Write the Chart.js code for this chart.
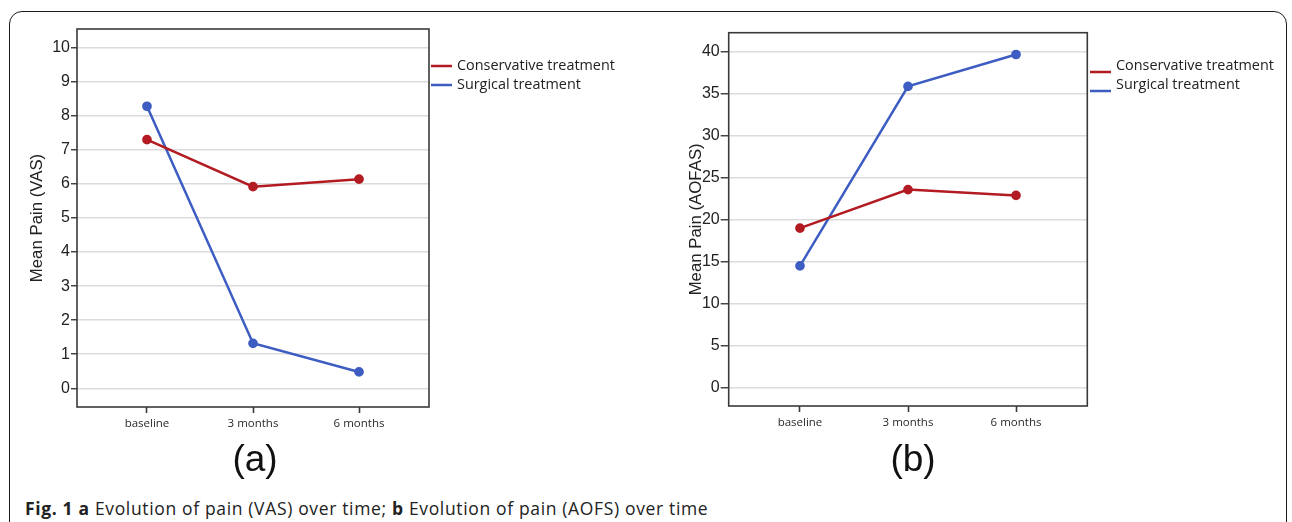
<!DOCTYPE html>
<html>
<head>
<meta charset="utf-8">
<script src="https://cdn.jsdelivr.net/npm/chart.js@4"></script>
<style>
  html, body { margin: 0; padding: 0; background: #fff; }
  body { width: 1292px; height: 522px; position: relative; overflow: hidden; }
  #frame { position: absolute; left: 9px; top: 11px; width: 1276px; height: 560px;
           border: 1.5px solid #1a1a1a; border-radius: 13px; }
  .cv { position: absolute; top: 0; }
  .panel { position: absolute; font-family: "Liberation Sans", Arial, sans-serif; font-size: 37px;
           color: #111; transform: translateX(-50%); top: 440px; line-height: 1; }
  #caption { position: absolute; left: 25px; top: 496px; font-family: "Open Sans", sans-serif;
             font-size: 17.5px; letter-spacing: 0.65px; color: #222; white-space: nowrap; }
  #caption b { font-weight: 700; }
</style>
</head>
<body>
<div id="frame"></div>
<canvas id="c1" class="cv" style="left:0px" width="660" height="440"></canvas>
<canvas id="c2" class="cv" style="left:640px" width="652" height="440"></canvas>
<div class="panel" style="left:255px">(a)</div>
<div class="panel" style="left:913px">(b)</div>
<div id="caption"><b>Fig. 1</b> <b>a</b> Evolution of pain (VAS) over time; <b>b</b> Evolution of pain (AOFS) over time</div>
<script>
const categories = ['baseline', '3 months', '6 months'];
const seriesNames = ['Conservative treatment', 'Surgical treatment'];
const vasConservative = [7.3, 5.92, 6.14];
const vasSurgical = [8.28, 1.32, 0.48];
const aofasConservative = [19.0, 23.6, 22.9];
const aofasSurgical = [14.5, 35.9, 39.7];
const vasTicks = [0, 1, 2, 3, 4, 5, 6, 7, 8, 9, 10];
const aofasTicks = [0, 5, 10, 15, 20, 25, 30, 35, 40];

const RED = '#b31b22';
const BLUE = '#3d5dc2';

function pts(arr) { return arr.map((v, i) => ({ x: i, y: v })); }

const boxPlugin = {
  id: 'box',
  beforeDatasetsDraw(chart) {
    const a = chart.chartArea, ctx = chart.ctx;
    ctx.save();
    ctx.strokeStyle = '#3a3a3a';
    ctx.lineWidth = 1.6;
    ctx.strokeRect(a.left, a.top, a.right - a.left, a.bottom - a.top);
    ctx.restore();
  }
};

const legendPlugin = {
  id: 'customLegend',
  afterDraw(chart, args, opts) {
    const ctx = chart.ctx;
    ctx.save();
    chart.data.datasets.forEach((ds, i) => {
      const y = opts.y + i * opts.gap;
      ctx.strokeStyle = ds.borderColor;
      ctx.lineWidth = 2.5;
      ctx.beginPath();
      ctx.moveTo(opts.x, y + opts.lineDy);
      ctx.lineTo(opts.x + 21, y + opts.lineDy);
      ctx.stroke();
      ctx.fillStyle = '#222';
      ctx.font = '14.4px "Open Sans", sans-serif';
      ctx.textBaseline = 'middle';
      ctx.fillText(ds.label, opts.x + 26, y);
    });
    ctx.restore();
  }
};

function makeChart(id, c, s, ticksArr, ymin, ymax, yTitle, L) {
  return new Chart(document.getElementById(id), {
    type: 'line',
    data: {
      datasets: [
        { label: seriesNames[0], data: pts(c), borderColor: RED, backgroundColor: RED,
          borderWidth: 2.5, pointRadius: 3.6, pointHoverRadius: 3.6, tension: 0 },
        { label: seriesNames[1], data: pts(s), borderColor: BLUE, backgroundColor: BLUE,
          borderWidth: 2.5, pointRadius: 3.6, pointHoverRadius: 3.6, tension: 0 }
      ]
    },
    options: {
      responsive: false,
      animation: false,
      events: [],
      layout: { padding: { left: 0, top: L.top, right: L.right, bottom: 0 } },
      plugins: {
        legend: { display: false },
        tooltip: { enabled: false },
        customLegend: L.legend
      },
      scales: {
        x: {
          type: 'linear', min: -0.66, max: 2.66,
          afterBuildTicks: sc => { sc.ticks = categories.map((_, i) => ({ value: i })); },
          afterFit: sc => { sc.height = L.xh; },
          border: { display: false },
          grid: { drawOnChartArea: false, drawTicks: true, tickLength: 6, tickColor: '#3a3a3a', tickWidth: 1.6 },
          ticks: { callback: v => categories[v], color: '#2a2a2a', padding: 4, maxRotation: 0,
                   font: { family: '"Open Sans", sans-serif', size: 11.5 } }
        },
        y: {
          min: ymin, max: ymax,
          afterBuildTicks: sc => { sc.ticks = ticksArr.map(v => ({ value: v })); },
          afterFit: sc => { sc.width = L.yw; },
          border: { display: false },
          grid: { color: '#dcdcdc', lineWidth: 1.5, drawTicks: true, tickLength: L.tl, tickColor: '#3a3a3a', tickWidth: 1.4 },
          ticks: { color: '#222', padding: 1, font: { family: '"Liberation Sans", Arial, sans-serif', size: 16 } },
          title: { display: true, text: yTitle, color: '#222', padding: { top: L.tp, bottom: 0 },
                   font: { family: '"Liberation Sans", Arial, sans-serif', size: 16.8 } }
        }
      }
    },
    plugins: [boxPlugin, legendPlugin]
  });
}

makeChart('c1', vasConservative, vasSurgical, vasTicks, -0.55, 10.55, 'Mean Pain (VAS)',
  { top: 29, right: 231, xh: 33, yw: 77, tl: 6, tp: 27,
    legend: { x: 431, y: 66, gap: 19, lineDy: 0 } });
makeChart('c2', aofasConservative, aofasSurgical, aofasTicks, -2.2, 42.3, 'Mean Pain (AOFAS)',
  { top: 32.7, right: 204.7, xh: 34, yw: 88.7, tl: 8, tp: 46,
    legend: { x: 450, y: 66, gap: 19, lineDy: 6 } });
</script>
</body>
</html>
